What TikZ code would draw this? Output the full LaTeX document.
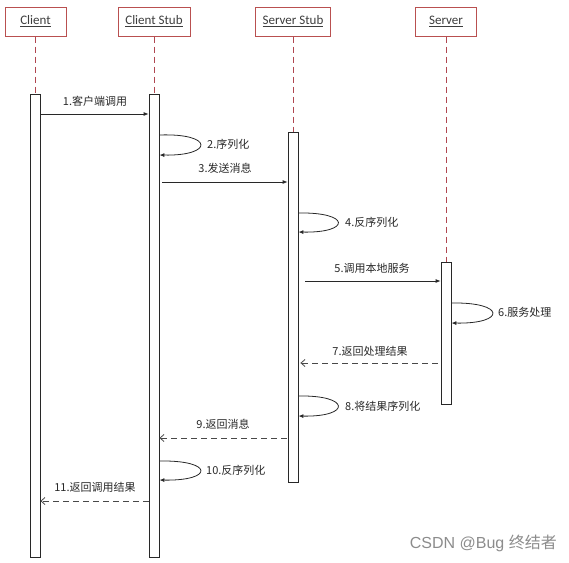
\documentclass[tikz,border=0pt]{standalone}
\usepackage{fontspec}
\setmainfont{Carlito}
\newfontfamily\cjk{Noto Sans CJK SC}
\newfontfamily\wmfont{Liberation Sans}
\usetikzlibrary{arrows.meta}
\definecolor{boxred}{RGB}{185,80,80}
\definecolor{lifered}{RGB}{175,70,80}
\definecolor{ink}{RGB}{40,40,40}
\begin{document}
\begin{tikzpicture}[x=1pt,y=-1pt,
 head/.style={draw=boxred, line width=1pt, fill=white, minimum height=29pt, inner sep=0pt, font=\fontsize{13}{15}\selectfont, text=ink!90},
 bar/.style={draw=ink, line width=0.8pt, fill=white, minimum width=10pt, inner sep=0pt},
 life/.style={draw=lifered, line width=0.9pt, dash pattern=on 6pt off 4pt},
 call/.style={draw=ink, line width=0.8pt, -{Latex[length=5pt,width=4pt]}},
 ret/.style={draw=ink!85, line width=0.8pt, dash pattern=on 6pt off 4pt, -{Straight Barb[length=4pt,width=7pt]}},
 lbl/.style={font=\cjk\fontsize{11}{13}\selectfont, text=ink, inner sep=0pt},
]
\useasboundingbox (0,0) rectangle (569,562);
% headers
\node[head, minimum width=61pt] (client) at (35.5,21.5) {\underline{Client}};
\node[head, minimum width=72pt] (cstub) at (154,21.5) {\underline{Client Stub}};
\node[head, minimum width=75pt] (sstub) at (293,21.5) {\underline{Server Stub}};
\node[head, minimum width=61pt] (server) at (446,21.5) {\underline{Server}};
% activation bars
\node[bar, minimum height=463pt] (cbar) at (35,325.5) {};
\node[bar, minimum height=463pt] (csbar) at (154,325.5) {};
\node[bar, minimum height=350pt] (ssbar) at (293,307) {};
\node[bar, minimum height=142pt] (sbar) at (446,333) {};
% lifelines
\draw[life] (client.south -| cbar.north) -- (cbar.north);
\draw[life] (cstub.south) -- (csbar.north);
\draw[life] (sstub.south) -- (ssbar.north);
\draw[life] (server.south) -- (sbar.north);
% 1
\draw[call] (cbar.east |- 0,114) -- (csbar.west |- 0,114);
\node[lbl] (l1) at (95,101) {1.客户端调用};
% 2
\draw[call] (csbar.east |- 0,135) .. controls (214,133) and (214,156) .. (csbar.east |- 0,155);
\node[lbl, anchor=west] (l2) at (207,144) {2.序列化};
% 3
\draw[call, shorten <=3pt] (csbar.east |- 0,182) -- (ssbar.west |- 0,182);
\node[lbl] (l3) at (225,168) {3.发送消息};
% 4
\draw[call] (ssbar.east |- 0,213) .. controls (351,212) and (351,233) .. (ssbar.east |- 0,232);
\node[lbl, anchor=west] (l4) at (345,222) {4.反序列化};
% 5
\draw[call, shorten <=7pt] (ssbar.east |- 0,281) -- (sbar.west |- 0,281);
\node[lbl] (l5) at (372,268) {5.调用本地服务};
% 6
\draw[call] (sbar.east |- 0,303) .. controls (506,302) and (506,324) .. (sbar.east |- 0,323);
\node[lbl, anchor=west] (l6) at (498,312) {6.服务处理};
% 7
\draw[ret, shorten <=3pt, shorten >=2pt] (sbar.west |- 0,363) -- (ssbar.east |- 0,363);
\node[lbl] (l7) at (370,351) {7.返回处理结果};
% 8
\draw[call] (ssbar.east |- 0,396) .. controls (351,395) and (351,417) .. (ssbar.east |- 0,416);
\node[lbl, anchor=west] (l8) at (345,406) {8.将结果序列化};
% 9
\draw[ret, shorten <=1pt] (ssbar.west |- 0,438) -- (csbar.east |- 0,438);
\node[lbl] (l9) at (223,424) {9.返回消息};
% 10
\draw[call] (csbar.east |- 0,461) .. controls (214,460) and (214,481) .. (csbar.east |- 0,480);
\node[lbl, anchor=west] (l10) at (206,470) {10.反序列化};
% 11
\draw[ret] (csbar.west |- 0,501) -- (cbar.east |- 0,501);
\node[lbl] (l11) at (95,487) {11.返回调用结果};
% watermark
\node[font=\fontsize{16}{18}\selectfont, text=black!45, anchor=east, inner sep=0pt] (wm) at (557,543) {\wmfont CSDN @Bug \cjk 终结者};
\end{tikzpicture}
\end{document}
